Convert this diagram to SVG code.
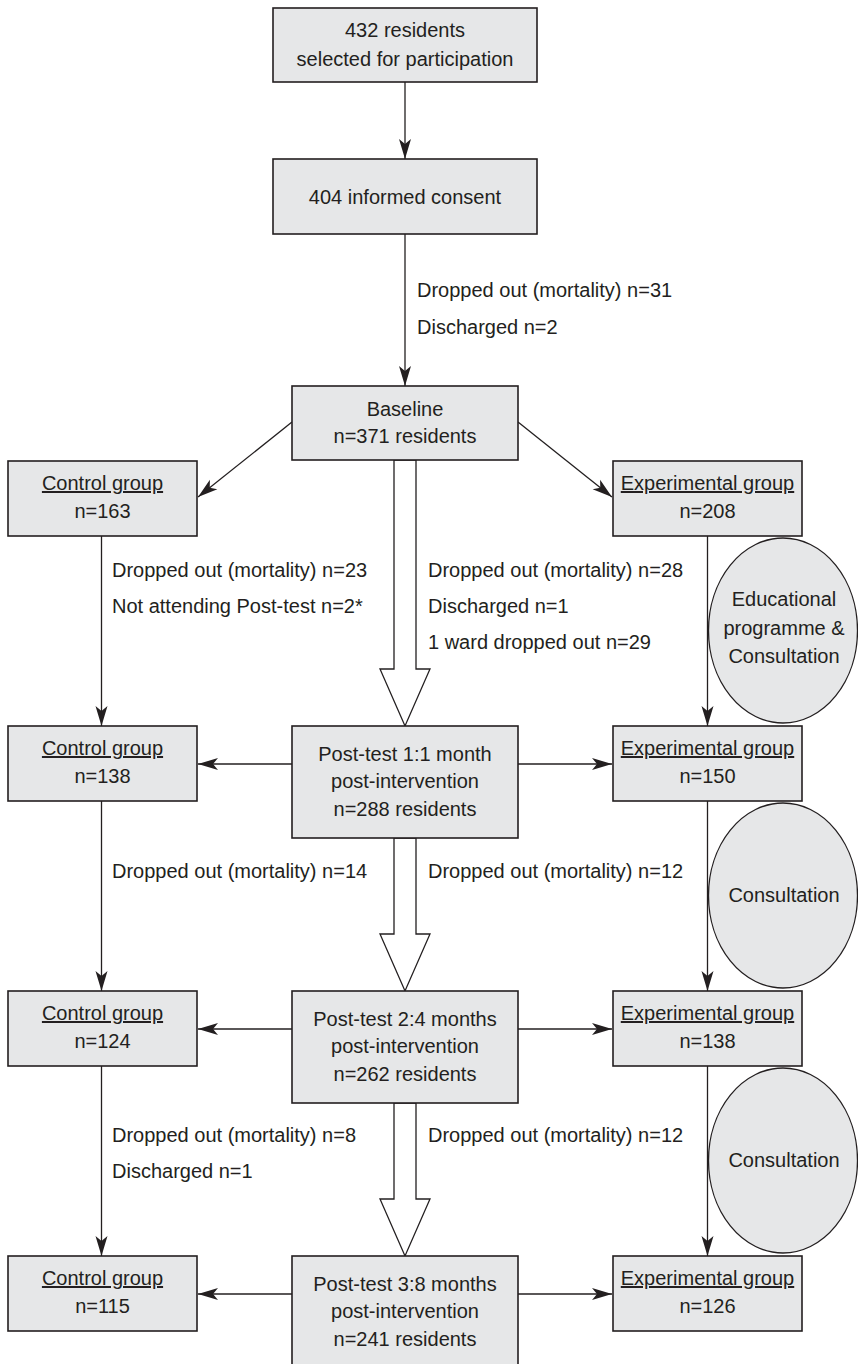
<svg xmlns="http://www.w3.org/2000/svg" width="858" height="1364" viewBox="0 0 858 1364">
<style>
.box{fill:#e6e7e8;stroke:#231f20;stroke-width:1.6}
.ell{fill:#e6e7e8;stroke:#231f20;stroke-width:1.3}
.t{font-family:"Liberation Sans",Arial,sans-serif;font-size:20px;fill:#231f20}
.c{text-anchor:middle}
.u{text-decoration:underline}
.ln{stroke:#231f20;stroke-width:1.3;fill:none}
.hol{fill:#fff;stroke:#231f20;stroke-width:1.3}
</style>
<defs>
<marker id="ah" markerWidth="20" markerHeight="14" refX="20" refY="7" orient="auto" markerUnits="userSpaceOnUse" viewBox="0 0 20 14">
<path d="M0,1 L20,7 L0,13 L5,7 Z" fill="#231f20"/>
</marker>
</defs>
<g id="connectors">
<line class="ln" x1="405" y1="82" x2="405" y2="159" marker-end="url(#ah)"/>
<line class="ln" x1="405" y1="234" x2="405" y2="386" marker-end="url(#ah)"/>
<line class="ln" x1="292" y1="422" x2="198" y2="497" marker-end="url(#ah)"/>
<line class="ln" x1="518" y1="422" x2="612" y2="497" marker-end="url(#ah)"/>
<line class="ln" x1="101.5" y1="536" x2="101.5" y2="726" marker-end="url(#ah)"/>
<line class="ln" x1="707.5" y1="536" x2="707.5" y2="726" marker-end="url(#ah)"/>
<line class="ln" x1="101.5" y1="801" x2="101.5" y2="991" marker-end="url(#ah)"/>
<line class="ln" x1="707.5" y1="801" x2="707.5" y2="991" marker-end="url(#ah)"/>
<line class="ln" x1="101.5" y1="1066" x2="101.5" y2="1256" marker-end="url(#ah)"/>
<line class="ln" x1="707.5" y1="1066" x2="707.5" y2="1256" marker-end="url(#ah)"/>
<line class="ln" x1="292" y1="764" x2="198" y2="764" marker-end="url(#ah)"/>
<line class="ln" x1="518" y1="764" x2="612" y2="764" marker-end="url(#ah)"/>
<line class="ln" x1="292" y1="1029" x2="198" y2="1029" marker-end="url(#ah)"/>
<line class="ln" x1="518" y1="1029" x2="612" y2="1029" marker-end="url(#ah)"/>
<line class="ln" x1="292" y1="1294" x2="198" y2="1294" marker-end="url(#ah)"/>
<line class="ln" x1="518" y1="1294" x2="612" y2="1294" marker-end="url(#ah)"/>
<polygon class="hol" points="394,460 394,669 380,669 405,726 430,669 416,669 416,460"/>
<polygon class="hol" points="394,838 394,934 380,934 405,991 430,934 416,934 416,838"/>
<polygon class="hol" points="394,1103 394,1199 380,1199 405,1256 430,1199 416,1199 416,1103"/>
</g>
<g id="labels">
<text class="t" x="417" y="297">Dropped out (mortality) n=31</text>
<text class="t" x="417" y="334">Discharged n=2</text>
<text class="t" x="112" y="577">Dropped out (mortality) n=23</text>
<text class="t" x="112" y="613">Not attending Post-test n=2*</text>
<text class="t" x="428" y="577">Dropped out (mortality) n=28</text>
<text class="t" x="428" y="613">Discharged n=1</text>
<text class="t" x="428" y="649">1 ward dropped out n=29</text>
<text class="t" x="112" y="878">Dropped out (mortality) n=14</text>
<text class="t" x="428" y="878">Dropped out (mortality) n=12</text>
<text class="t" x="112" y="1142">Dropped out (mortality) n=8</text>
<text class="t" x="112" y="1178">Discharged n=1</text>
<text class="t" x="428" y="1142">Dropped out (mortality) n=12</text>
</g>
<g id="n-selected">
<rect class="box" x="273" y="8" width="264" height="74"/>
<text class="t c" x="405" y="37">432 residents</text>
<text class="t c" x="405" y="66">selected for participation</text>
</g>
<g id="n-consent">
<rect class="box" x="273" y="159" width="264" height="75"/>
<text class="t c" x="405" y="204">404 informed consent</text>
</g>
<g id="n-baseline">
<rect class="box" x="292" y="386" width="226" height="74"/>
<text class="t c" x="405" y="416">Baseline</text>
<text class="t c" x="405" y="443">n=371 residents</text>
</g>
<g id="n-control1">
<rect class="box" x="8" y="461" width="189" height="75"/>
<text class="t c u" x="102.5" y="490">Control group</text>
<text class="t c" x="102.5" y="518">n=163</text>
</g>
<g id="n-exp1">
<rect class="box" x="613" y="461" width="189" height="75"/>
<text class="t c u" x="707.5" y="490">Experimental group</text>
<text class="t c" x="707.5" y="518">n=208</text>
</g>
<g id="n-edu">
<ellipse class="ell" cx="783" cy="630.5" rx="74.5" ry="92.5"/>
<text class="t c" x="784" y="606">Educational</text>
<text class="t c" x="784" y="635">programme &amp;</text>
<text class="t c" x="784" y="663">Consultation</text>
</g>
<g id="n-post1">
<rect class="box" x="292" y="726" width="226" height="112"/>
<text class="t c" x="405" y="761">Post-test 1:1 month</text>
<text class="t c" x="405" y="788">post-intervention</text>
<text class="t c" x="405" y="816">n=288 residents</text>
</g>
<g id="n-control2">
<rect class="box" x="8" y="726" width="189" height="75"/>
<text class="t c u" x="102.5" y="755">Control group</text>
<text class="t c" x="102.5" y="783">n=138</text>
</g>
<g id="n-exp2">
<rect class="box" x="613" y="726" width="189" height="75"/>
<text class="t c u" x="707.5" y="755">Experimental group</text>
<text class="t c" x="707.5" y="783">n=150</text>
</g>
<g id="n-cons1">
<ellipse class="ell" cx="783" cy="895.5" rx="74.5" ry="92.5"/>
<text class="t c" x="784" y="902">Consultation</text>
</g>
<g id="n-post2">
<rect class="box" x="292" y="991" width="226" height="112"/>
<text class="t c" x="405" y="1026">Post-test 2:4 months</text>
<text class="t c" x="405" y="1053">post-intervention</text>
<text class="t c" x="405" y="1081">n=262 residents</text>
</g>
<g id="n-control3">
<rect class="box" x="8" y="991" width="189" height="75"/>
<text class="t c u" x="102.5" y="1020">Control group</text>
<text class="t c" x="102.5" y="1048">n=124</text>
</g>
<g id="n-exp3">
<rect class="box" x="613" y="991" width="189" height="75"/>
<text class="t c u" x="707.5" y="1020">Experimental group</text>
<text class="t c" x="707.5" y="1048">n=138</text>
</g>
<g id="n-cons2">
<ellipse class="ell" cx="783" cy="1160.5" rx="74.5" ry="92.5"/>
<text class="t c" x="784" y="1167">Consultation</text>
</g>
<g id="n-post3">
<rect class="box" x="292" y="1256" width="226" height="112"/>
<text class="t c" x="405" y="1291">Post-test 3:8 months</text>
<text class="t c" x="405" y="1318">post-intervention</text>
<text class="t c" x="405" y="1346">n=241 residents</text>
</g>
<g id="n-control4">
<rect class="box" x="8" y="1256" width="189" height="75"/>
<text class="t c u" x="102.5" y="1285">Control group</text>
<text class="t c" x="102.5" y="1313">n=115</text>
</g>
<g id="n-exp4">
<rect class="box" x="613" y="1256" width="189" height="75"/>
<text class="t c u" x="707.5" y="1285">Experimental group</text>
<text class="t c" x="707.5" y="1313">n=126</text>
</g>
</svg>
